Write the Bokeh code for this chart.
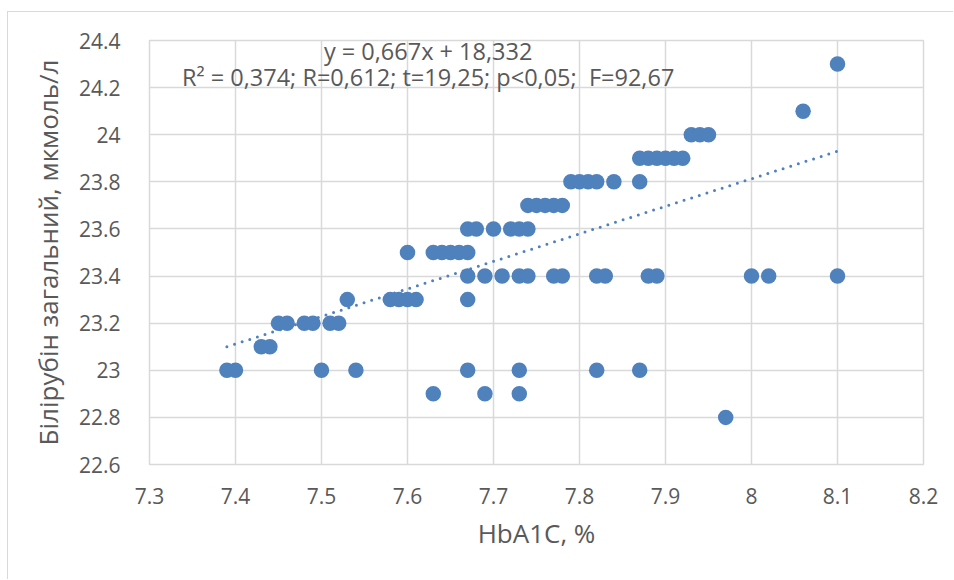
from bokeh.plotting import figure
from bokeh.models import FixedTicker, Label, ColumnDataSource
from bokeh.embed import file_html
from bokeh.resources import INLINE

# ---- data ----
hba1c = [
    7.39, 7.40, 7.50, 7.54, 7.67, 7.73, 7.82, 7.87,          # 23.0
    7.43, 7.44,                                              # 23.1
    7.45, 7.46, 7.48, 7.49, 7.51, 7.52,                      # 23.2
    7.53, 7.58, 7.59, 7.60, 7.61, 7.67,                      # 23.3
    7.67, 7.69, 7.71, 7.73, 7.74, 7.77, 7.78, 7.82, 7.83,
    7.88, 7.89, 8.00, 8.02, 8.10,                            # 23.4
    7.60, 7.63, 7.64, 7.65, 7.66, 7.67,                      # 23.5
    7.67, 7.68, 7.70, 7.72, 7.73, 7.74,                      # 23.6
    7.74, 7.75, 7.76, 7.77, 7.78,                            # 23.7
    7.79, 7.80, 7.81, 7.82, 7.84, 7.87,                      # 23.8
    7.87, 7.88, 7.89, 7.90, 7.91, 7.92,                      # 23.9
    7.93, 7.94, 7.95,                                        # 24.0
    8.06,                                                    # 24.1
    8.10,                                                    # 24.3
    7.63, 7.69, 7.73,                                        # 22.9
    7.97,                                                    # 22.8
]
bilirubin = (
    [23.0] * 8 + [23.1] * 2 + [23.2] * 6 + [23.3] * 6 + [23.4] * 14
    + [23.5] * 6 + [23.6] * 6 + [23.7] * 5 + [23.8] * 6 + [23.9] * 6
    + [24.0] * 3 + [24.1] + [24.3] + [22.9] * 3 + [22.8]
)

trend_x = [7.39, 8.10]
trend_y = [23.10, 23.93]

x_ticks = [7.3, 7.4, 7.5, 7.6, 7.7, 7.8, 7.9, 8.0, 8.1, 8.2]
x_tick_labels = ["7.3", "7.4", "7.5", "7.6", "7.7", "7.8", "7.9", "8", "8.1", "8.2"]
y_ticks = [22.6, 22.8, 23.0, 23.2, 23.4, 23.6, 23.8, 24.0, 24.2, 24.4]
y_tick_labels = ["22.6", "22.8", "23", "23.2", "23.4", "23.6", "23.8", "24", "24.2", "24.4"]

eq_text = "y = 0,667x + 18,332"
stats_text = "R² = 0,374; R=0,612; t=19,25; p<0,05;\u00a0 F=92,67"
x_title = "HbA1C, %"
y_title = "Білірубін загальний, мкмоль/л"

FONT = "Open Sans"
BLUE = "#4F81BD"
TXT = "#595959"
GRID = "#d9d9d9"

p = figure(
    width=946, height=568,
    x_range=(7.3, 8.2), y_range=(22.6, 24.4),
    output_backend="svg", toolbar_location=None,
    min_border_left=141, min_border_right=31,
    min_border_top=28, min_border_bottom=116,
)
p.styles = {
    "margin-left": "7px", "margin-top": "11px",
    "border-left": "1px solid #d9d9d9", "border-top": "1px solid #d9d9d9",
}
p.background_fill_color = "white"
p.border_fill_color = "white"
p.outline_line_color = GRID
p.outline_line_width = 1.5

for ax in (p.xaxis[0], p.yaxis[0]):
    ax.axis_line_color = None
    ax.major_tick_line_color = None
    ax.minor_tick_line_color = None
    ax.major_label_text_font = FONT
    ax.major_label_text_color = TXT
    ax.major_label_text_font_size = "21px"
    ax.axis_label_text_font = FONT
    ax.axis_label_text_color = TXT
    ax.axis_label_text_font_size = "26px"
    ax.axis_label_text_font_style = "normal"

p.xaxis.ticker = FixedTicker(ticks=x_ticks)
p.yaxis.ticker = FixedTicker(ticks=y_ticks)
p.xaxis.major_label_overrides = dict(zip(x_ticks, x_tick_labels))
p.yaxis.major_label_overrides = dict(zip(y_ticks, y_tick_labels))
p.xaxis.axis_label = x_title
p.yaxis.axis_label = y_title
p.xaxis.major_label_standoff = 17
p.yaxis.major_label_standoff = 23
p.xaxis.axis_label_standoff = 8
p.yaxis.axis_label_standoff = 10

p.xgrid.ticker = FixedTicker(ticks=x_ticks)
p.ygrid.ticker = FixedTicker(ticks=y_ticks)
p.xgrid.grid_line_color = GRID
p.ygrid.grid_line_color = GRID
p.xgrid.grid_line_width = 1.5
p.ygrid.grid_line_width = 1.5

src = ColumnDataSource(dict(x=hba1c, y=bilirubin))
p.scatter("x", "y", source=src, size=15.5, fill_color=BLUE, line_color=None)

p.line(trend_x, trend_y, line_color=BLUE, line_width=3,
       line_dash="0 8", line_cap="round")

p.add_layout(Label(x=7.624, y=24.357, text=eq_text, text_align="center",
                   text_baseline="middle", text_font=FONT,
                   text_font_size="23.5px", text_color=TXT))
p.add_layout(Label(x=7.624, y=24.243, text=stats_text, text_align="center",
                   text_baseline="middle", text_font=FONT,
                   text_font_size="23.5px", text_color=TXT))

open("out.html", "w").write(file_html(p, INLINE))
